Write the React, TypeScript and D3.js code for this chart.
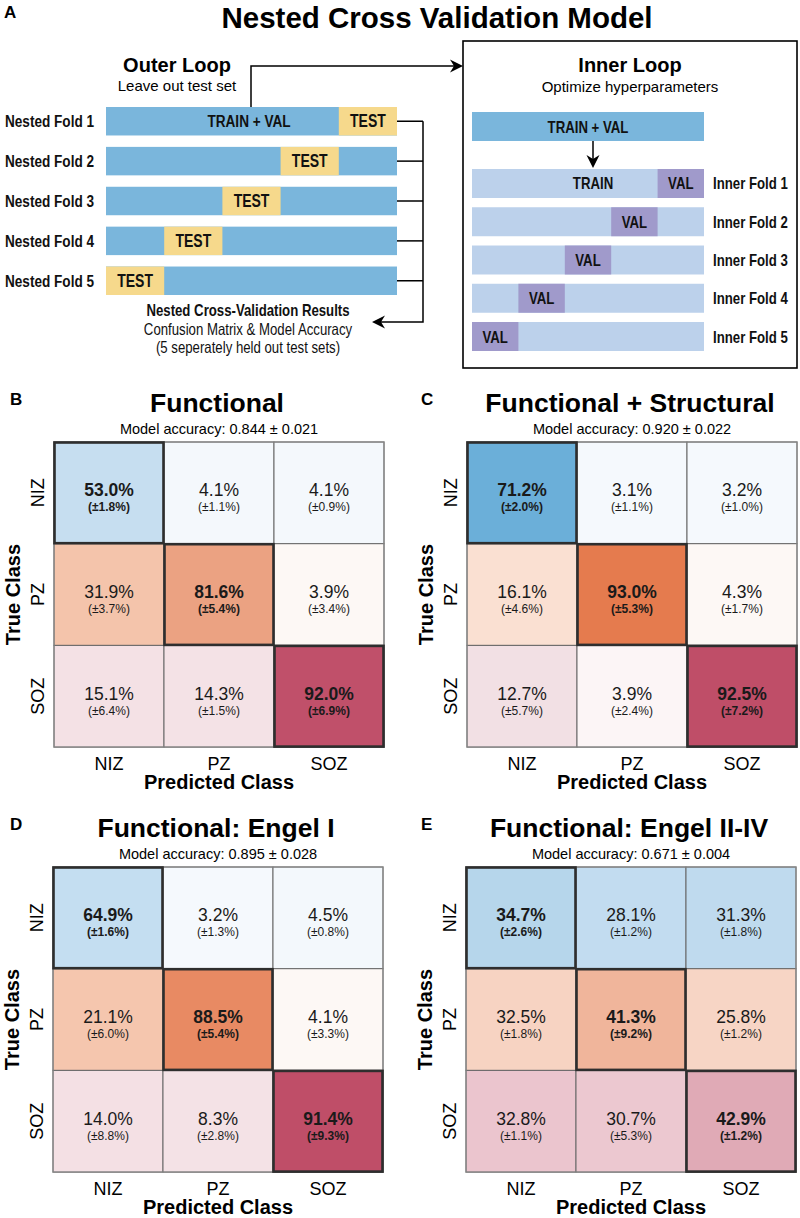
import React from "react";
import * as d3 from "d3";

// ---------- DATA ----------
const outerFolds = ["Nested Fold 1", "Nested Fold 2", "Nested Fold 3", "Nested Fold 4", "Nested Fold 5"];
const outerTestPos = [4, 3, 2, 1, 0];
const innerFolds = ["Inner Fold 1", "Inner Fold 2", "Inner Fold 3", "Inner Fold 4", "Inner Fold 5"];
const innerValPos = [4, 3, 2, 1, 0];
const SEGMENTS = 5;

const classes = ["NIZ", "PZ", "SOZ"];

const panelLetters = ["B", "C", "D", "E"];
const panelTitles = ["Functional", "Functional + Structural", "Functional: Engel I", "Functional: Engel II-IV"];
const accuracyMean = ["0.844", "0.920", "0.895", "0.671"];
const accuracySd = ["0.021", "0.022", "0.028", "0.004"];

const meanFunctional = [[53.0, 4.1, 4.1], [31.9, 81.6, 3.9], [15.1, 14.3, 92.0]];
const sdFunctional = [[1.8, 1.1, 0.9], [3.7, 5.4, 3.4], [6.4, 1.5, 6.9]];
const meanFuncStruct = [[71.2, 3.1, 3.2], [16.1, 93.0, 4.3], [12.7, 3.9, 92.5]];
const sdFuncStruct = [[2.0, 1.1, 1.0], [4.6, 5.3, 1.7], [5.7, 2.4, 7.2]];
const meanEngelI = [[64.9, 3.2, 4.5], [21.1, 88.5, 4.1], [14.0, 8.3, 91.4]];
const sdEngelI = [[1.6, 1.3, 0.8], [6.0, 5.4, 3.3], [8.8, 2.8, 9.3]];
const meanEngelII = [[34.7, 28.1, 31.3], [32.5, 41.3, 25.8], [32.8, 30.7, 42.9]];
const sdEngelII = [[2.6, 1.2, 1.8], [1.8, 9.2, 1.2], [1.1, 5.3, 1.2]];

// ---------- STYLES ----------
const cellColors = [
  [["#c6def0", "#f4f8fc", "#f4f8fc"], ["#f4c4ab", "#eba282", "#fdf8f5"], ["#f4e1e5", "#f4e2e6", "#c0506a"]],
  [["#6bafd9", "#f5f9fd", "#f5f9fd"], ["#fae0d2", "#e57b4e", "#fdf8f5"], ["#f2e0e4", "#fcf5f6", "#bf4e68"]],
  [["#c4def1", "#f5f9fd", "#f3f8fc"], ["#f5c6ae", "#e88a63", "#fdf8f5"], ["#f4e0e4", "#f4e2e6", "#bf4e68"]],
  [["#b6d6eb", "#c2dcf0", "#bfdaee"], ["#f7d3c2", "#f0b59b", "#f7d5c5"], ["#ebc5ce", "#ecc8d0", "#e0aab6"]],
];
const panelOrigins = [
  { left: 54, top: 442 },
  { left: 467, top: 442 },
  { left: 53, top: 867 },
  { left: 466, top: 867 },
];
const CELL_W = 110;
const CELL_H = 101.7;

const SANS = "'Liberation Sans', Arial, Helvetica, sans-serif";
const BLUE = "#7ab6dc";
const YELLOW = "#f6d98c";
const LIGHT = "#bcd1eb";
const PURPLE = "#a09acb";
const SX = 0.8;

const means = [meanFunctional, meanFuncStruct, meanEngelI, meanEngelII];
const sds = [sdFunctional, sdFuncStruct, sdEngelI, sdEngelII];

// condensed text (the diagram uses a narrow face)
function NText({ x, y, anchor = "start", bold = true, size = 16.5, children }: any) {
  return (
    <text transform={`translate(${x},${y}) scale(${SX},1)`} textAnchor={anchor} fontFamily={SANS}
      fontWeight={bold ? "bold" : "normal"} fontSize={size} fill="#111">
      {children}
    </text>
  );
}

function ArrowHead({ x, y, dir }: { x: number; y: number; dir: "left" | "right" | "down" }) {
  const L = 13, W = 6.5, n = 4;
  const p = `M0,0 L${-L},${-W} L${-L + n},0 L${-L},${W} Z`;
  const rot = dir === "right" ? 0 : dir === "left" ? 180 : 90;
  return <path d={p} transform={`translate(${x},${y}) rotate(${rot})`} fill="#000" />;
}

function Diagram() {
  const xo = d3.scaleLinear().domain([0, SEGMENTS]).range([106, 397]);
  const yo = d3.scaleBand<string>().domain(outerFolds).range([107, 295]).paddingInner(0.286).paddingOuter(0);
  const xi = d3.scaleLinear().domain([0, SEGMENTS]).range([472, 704]);
  const yi = d3.scaleBand<string>().domain(innerFolds).range([169, 351]).paddingInner(0.242).paddingOuter(0);
  const connX = 423;
  const boxL = 463, boxT = 41, boxR = 797, boxB = 368;
  const bh = yo.bandwidth();
  const ih = yi.bandwidth();
  return (
    <g>
      <text x={4} y={18} fontFamily={SANS} fontWeight="bold" fontSize={17}>A</text>
      <text x={437} y={28} textAnchor="middle" fontFamily={SANS} fontWeight="bold" fontSize={29.5}>Nested Cross Validation Model</text>
      <text x={177} y={72} textAnchor="middle" fontFamily={SANS} fontWeight="bold" fontSize={20}>Outer Loop</text>
      <text x={177} y={91} textAnchor="middle" fontFamily={SANS} fontSize={15}>Leave out test set</text>

      {/* connector to inner loop */}
      <path d={`M${251},${107} V66 H${boxL - 2}`} fill="none" stroke="#000" strokeWidth={1.5} />
      <ArrowHead x={boxL} y={66} dir="right" />

      {outerFolds.map((f, i) => {
        const y = yo(f)!;
        const t = outerTestPos[i];
        const base = y + bh / 2 + 6;
        return (
          <g key={f}>
            <NText x={5} y={base} size={17}>{f}</NText>
            <rect x={xo(0)} y={y} width={xo(SEGMENTS) - xo(0)} height={bh} fill={BLUE} />
            <rect x={xo(t)} y={y} width={xo(t + 1) - xo(t)} height={bh} fill={YELLOW} />
            <NText x={(xo(t) + xo(t + 1)) / 2} y={base} anchor="middle" size={17.5}>TEST</NText>
            {i === 0 && <NText x={249} y={base} anchor="middle" size={17}>TRAIN + VAL</NText>}
            <line x1={xo(SEGMENTS)} x2={connX} y1={y + bh / 2} y2={y + bh / 2} stroke="#000" strokeWidth={1.5} />
          </g>
        );
      })}
      <path d={`M${connX},${yo(outerFolds[0])! + bh / 2} V322 H${374}`} fill="none" stroke="#000" strokeWidth={1.5} />
      <ArrowHead x={372} y={322} dir="left" />
      <NText x={248} y={316} anchor="middle" size={16.5}>Nested Cross-Validation Results</NText>
      <NText x={248} y={335} anchor="middle" bold={false} size={16.5}>Confusion Matrix &amp; Model Accuracy</NText>
      <NText x={248} y={353} anchor="middle" bold={false} size={16.5}>(5 seperately held out test sets)</NText>

      {/* inner loop box */}
      <rect x={boxL} y={boxT} width={boxR - boxL} height={boxB - boxT} fill="none" stroke="#000" strokeWidth={1.6} />
      <text x={630} y={72} textAnchor="middle" fontFamily={SANS} fontWeight="bold" fontSize={20}>Inner Loop</text>
      <text x={630} y={92} textAnchor="middle" fontFamily={SANS} fontSize={15}>Optimize hyperparameters</text>
      <rect x={xi(0)} y={112} width={xi(SEGMENTS) - xi(0)} height={29} fill={BLUE} />
      <NText x={588} y={132.5} anchor="middle" size={16.5}>TRAIN + VAL</NText>
      <line x1={593} x2={593} y1={141} y2={160} stroke="#000" strokeWidth={1.5} />
      <ArrowHead x={593} y={168} dir="down" />
      {innerFolds.map((f, i) => {
        const y = yi(f)!;
        const v = innerValPos[i];
        const base = y + ih / 2 + 6;
        return (
          <g key={f}>
            <rect x={xi(0)} y={y} width={xi(SEGMENTS) - xi(0)} height={ih} fill={LIGHT} />
            <rect x={xi(v)} y={y} width={xi(v + 1) - xi(v)} height={ih} fill={PURPLE} />
            <NText x={(xi(v) + xi(v + 1)) / 2} y={base} anchor="middle" size={16.5}>VAL</NText>
            {i === 0 && <NText x={593} y={base} anchor="middle" size={16.5}>TRAIN</NText>}
            <NText x={713} y={base} size={16.5}>{f}</NText>
          </g>
        );
      })}
    </g>
  );
}

function Matrix({ idx }: { idx: number }) {
  const { left, top } = panelOrigins[idx];
  const x = d3.scaleBand<string>().domain(classes).range([left, left + CELL_W * 3]);
  const y = d3.scaleBand<string>().domain(classes).range([top, top + CELL_H * 3]);
  const bottom = top + CELL_H * 3;
  const cx = left + (CELL_W * 3) / 2;
  const cy = top + (CELL_H * 3) / 2;
  const m = means[idx];
  const s = sds[idx];
  const cells: { r: number; c: number }[] = [];
  classes.forEach((_, r) => classes.forEach((_, c) => cells.push({ r, c })));
  return (
    <g>
      <text x={idx % 2 === 0 ? 10 : 421} y={top - 37} fontFamily={SANS} fontWeight="bold" fontSize={17}>{panelLetters[idx]}</text>
      <text x={cx - 2} y={top - 30} textAnchor="middle" fontFamily={SANS} fontWeight="bold" fontSize={26.5}>{panelTitles[idx]}</text>
      <text x={cx} y={top - 8} textAnchor="middle" fontFamily={SANS} fontSize={14.5}>
        Model accuracy: {accuracyMean[idx]} ± {accuracySd[idx]}
      </text>
      {cells.map(({ r, c }) => (
        <rect key={`f${r}${c}`} x={x(classes[c])!} y={y(classes[r])!} width={x.bandwidth()} height={y.bandwidth()}
          fill={cellColors[idx][r][c]} stroke="#666" strokeWidth={1} />
      ))}
      <rect x={left} y={top} width={CELL_W * 3} height={CELL_H * 3} fill="none" stroke="#888" strokeWidth={1.2} />
      {classes.map((_, k) => (
        <rect key={`d${k}`} x={x(classes[k])! + 0.5} y={y(classes[k])! + 0.5} width={x.bandwidth() - 1} height={y.bandwidth() - 1}
          fill="none" stroke="#2e2e2e" strokeWidth={2.6} />
      ))}
      {cells.map(({ r, c }) => {
        const tx = x(classes[c])! + x.bandwidth() / 2;
        const ty = y(classes[r])! + y.bandwidth() / 2;
        const diag = r === c;
        return (
          <g key={`t${r}${c}`} fontFamily={SANS} fill="#1a1a1a" textAnchor="middle" fontWeight={diag ? "bold" : "normal"}>
            <text x={tx} y={ty + 3.5} fontSize={17.5}>{m[r][c].toFixed(1)}%</text>
            <text x={tx} y={ty + 18.5} fontSize={12}>(±{s[r][c].toFixed(1)}%)</text>
          </g>
        );
      })}
      {classes.map((k) => (
        <text key={`cx${k}`} x={x(k)! + x.bandwidth() / 2} y={bottom + 23} textAnchor="middle" fontFamily={SANS} fontSize={18}>{k}</text>
      ))}
      {classes.map((k) => (
        <text key={`ry${k}`} transform={`translate(${left - 10},${y(k)! + y.bandwidth() / 2}) rotate(-90)`} textAnchor="middle" fontFamily={SANS} fontSize={18}>{k}</text>
      ))}
      <text x={cx} y={bottom + 42} textAnchor="middle" fontFamily={SANS} fontWeight="bold" fontSize={20}>Predicted Class</text>
      <text transform={`translate(${left - 34},${cy}) rotate(-90)`} textAnchor="middle" fontFamily={SANS} fontWeight="bold" fontSize={20}>True Class</text>
    </g>
  );
}

export default function App() {
  return (
    <svg width={800} height={1218} style={{ position: "absolute", left: 0, top: 0, background: "#fff" }}>
      <rect width={800} height={1218} fill="#fff" />
      <Diagram />
      {[0, 1, 2, 3].map((i) => (
        <Matrix key={i} idx={i} />
      ))}
    </svg>
  );
}
